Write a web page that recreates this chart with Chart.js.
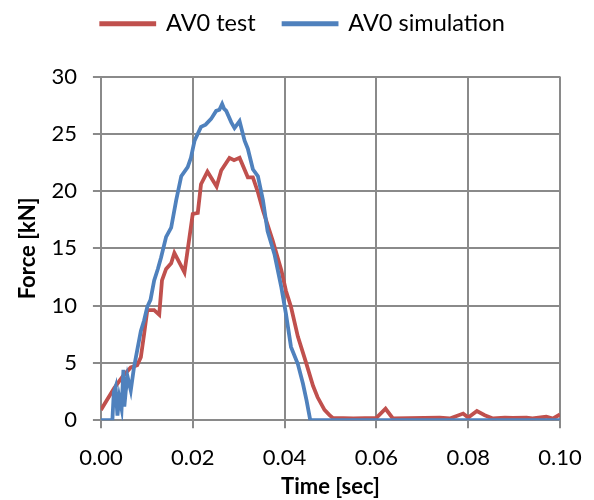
<!DOCTYPE html>
<html>
<head>
<meta charset="utf-8">
<script src="https://cdn.jsdelivr.net/npm/chart.js@4/dist/chart.umd.min.js"></script>
<style>
  html, body { margin: 0; padding: 0; background: #fff; }
</style>
</head>
<body>
<canvas id="force_chart" width="594" height="500"></canvas>
<script>
// values
var testTime = [0, 0.0029, 0.0047, 0.0065, 0.0079, 0.0087, 0.0094, 0.0101, 0.0116, 0.0127, 0.0133, 0.0142, 0.0153, 0.016, 0.0182, 0.020, 0.0211, 0.0218, 0.0232, 0.0252, 0.0262, 0.028, 0.029, 0.0302, 0.032, 0.0331, 0.0342, 0.0353, 0.0374, 0.0393, 0.0403, 0.0414, 0.0429, 0.0447, 0.0462, 0.0472, 0.0487, 0.0498, 0.0505, 0.055, 0.06, 0.062, 0.0636, 0.0704, 0.0738, 0.076, 0.0789, 0.080, 0.0819, 0.0836, 0.0854, 0.088, 0.0897, 0.0927, 0.094, 0.097, 0.0985, 0.1];
var testForce = [0.9, 2.8, 3.8, 4.6, 4.8, 5.5, 7.5, 9.6, 9.6, 9.2, 12.2, 13.2, 13.7, 14.6, 12.9, 18.0, 18.1, 20.6, 21.7, 20.4, 21.8, 22.9, 22.7, 22.9, 21.2, 21.2, 19.9, 18.3, 15.7, 13.1, 11.3, 9.9, 7.3, 5.0, 3.0, 2.0, 0.9, 0.45, 0.2, 0.15, 0.2, 1.0, 0.15, 0.2, 0.23, 0.15, 0.58, 0.23, 0.8, 0.44, 0.15, 0.23, 0.2, 0.23, 0.15, 0.3, 0.15, 0.5];

var simTime = [0, 0.0025, 0.0028, 0.0032, 0.0036, 0.004, 0.0045, 0.0049, 0.0051, 0.0054, 0.0058, 0.0065, 0.0072, 0.0079, 0.0087, 0.0094, 0.0101, 0.0108, 0.0116, 0.0124, 0.0131, 0.0142, 0.0153, 0.0164, 0.0175, 0.0189, 0.0196, 0.0204, 0.0218, 0.0228, 0.024, 0.0251, 0.0258, 0.0264, 0.0268, 0.0273, 0.0284, 0.0291, 0.0302, 0.0313, 0.032, 0.0331, 0.0342, 0.0353, 0.0363, 0.0378, 0.0393, 0.0403, 0.0414, 0.0429, 0.044, 0.0448, 0.0456, 0.06, 0.08, 0.1];
var simForce = [0, 0, 2.4, 2.9, 0.4, 2.0, 1.0, 4.4, 1.2, 2.5, 3.8, 2.6, 4.6, 6.1, 7.8, 8.7, 9.9, 10.5, 12.2, 13.2, 14.2, 16.0, 16.8, 19.2, 21.3, 22.1, 22.9, 24.4, 25.6, 25.8, 26.3, 27.0, 27.1, 27.6, 27.2, 27.0, 26.0, 25.5, 26.1, 24.4, 23.7, 21.9, 21.3, 19.2, 16.5, 14.5, 11.6, 9.3, 6.4, 4.9, 3.2, 1.7, 0, 0, 0, 0];

var xTicks = [0, 0.02, 0.04, 0.06, 0.08, 0.10];

function toPoints(xs, ys) {
    return xs.map(function(x, i) { return { x: x, y: ys[i] }; });
}

var gridColor = '#8a8a8a';
var family = 'Lato, "Open Sans", sans-serif';
var font = { family: family, size: 22 };

// legend: extra room below it, and drawn a bit higher / further right
var legendTweak = {
    id: 'legendTweak',
    beforeInit: function(chart) {
        var legend = chart.legend;
        var fit = legend.fit;
        var draw = legend.draw;
        legend.fit = function() {
            fit.call(this);
            this.height += 15;
        };
        legend.draw = function() {
            this.ctx.save();
            this.ctx.translate(19, -16);
            draw.call(this);
            this.ctx.restore();
        };
    }
};

var chart = new Chart(document.getElementById('force_chart'), {
    type: 'line',
    data: {
        datasets: [{
            label: 'AV0 test',
            data: toPoints(testTime, testForce),
            borderColor: '#c0504d',
            backgroundColor: '#c0504d',
            borderWidth: 3.8,
            order: 2
        }, {
            label: 'AV0 simulation',
            data: toPoints(simTime, simForce),
            borderColor: '#4f81bd',
            backgroundColor: '#4f81bd',
            borderWidth: 3.8,
            order: 1
        }]
    },
    options: {
        responsive: false,
        animation: false,
        layout: { padding: { left: 8, right: 34, top: 0, bottom: 0 } },
        elements: { point: { radius: 0 }, line: { tension: 0 } },
        plugins: {
            tooltip: { enabled: false },
            legend: {
                position: 'top',
                labels: {
                    color: '#000',
                    font: { family: family, size: 23.5 },
                    boxWidth: 53,
                    boxHeight: 1,
                    padding: 28,
                    sort: function(a, b) { return a.datasetIndex - b.datasetIndex; }
                }
            }
        },
        scales: {
            x: {
                type: 'linear',
                min: 0,
                max: 0.1,
                afterBuildTicks: function(axis) {
                    axis.ticks = xTicks.map(function(v) { return { value: v }; });
                },
                afterFit: function(axis) {
                    axis.paddingRight = 0;
                },
                ticks: {
                    color: '#000',
                    font: font,
                    padding: 17,
                    maxRotation: 0,
                    callback: function(v) { return v.toFixed(2); }
                },
                grid: { color: gridColor, lineWidth: 2, tickLength: 8 },
                border: { color: gridColor, width: 2 },
                title: {
                    display: true,
                    text: 'Time [sec]',
                    color: '#000',
                    font: { family: family, size: 22, weight: 'bold' },
                    padding: { top: -15, bottom: 0 }
                }
            },
            y: {
                min: 0,
                max: 30,
                ticks: { stepSize: 5, color: '#000', font: font, padding: 16 },
                grid: { color: gridColor, lineWidth: 2, tickLength: 8 },
                border: { color: gridColor, width: 2 },
                title: {
                    display: true,
                    text: 'Force [kN]',
                    color: '#000',
                    font: { family: family, size: 22, weight: 'bold' },
                    padding: { top: 7, bottom: -6 }
                }
            }
        }
    },
    plugins: [legendTweak]
});
</script>
</body>
</html>
